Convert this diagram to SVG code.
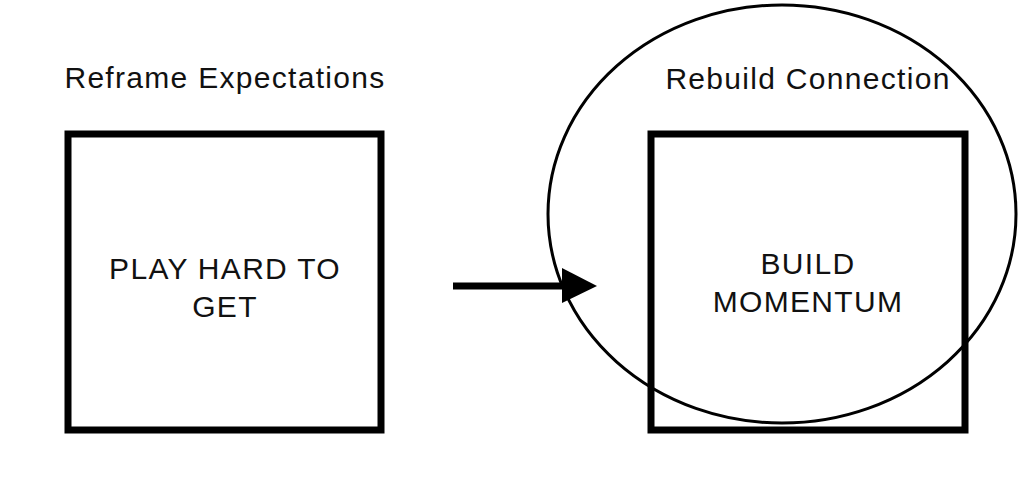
<svg xmlns="http://www.w3.org/2000/svg" width="1024" height="492" viewBox="0 0 1024 492">
<style>
.box{fill:none;stroke:#000;stroke-width:7}
.t{font-family:"Liberation Sans",Arial,sans-serif;font-size:30px;letter-spacing:1.3px;fill:#111;text-anchor:middle}
</style>
<rect width="1024" height="492" fill="#fff"/>
<g id="label-left"><text class="t" x="225" y="88">Reframe Expectations</text></g>
<g id="node-left">
<rect class="box" x="68" y="134" width="313" height="296"/>
<text class="t" x="225" y="279">PLAY HARD TO</text>
<text class="t" x="225" y="317">GET</text>
</g>
<g id="node-right">
<rect class="box" x="651" y="134" width="314" height="296"/>
<text class="t" x="808" y="274">BUILD</text>
<text class="t" x="808" y="312">MOMENTUM</text>
</g>
<g id="ellipse">
<ellipse cx="782" cy="214" rx="234" ry="209" fill="none" stroke="#000" stroke-width="3"/>
<text class="t" x="808" y="89">Rebuild Connection</text>
</g>
<g id="connectors">
<line x1="453" y1="286" x2="565" y2="286" stroke="#000" stroke-width="7"/>
<polygon points="562,268 597,286 562,303" fill="#000"/>
</g>
</svg>
